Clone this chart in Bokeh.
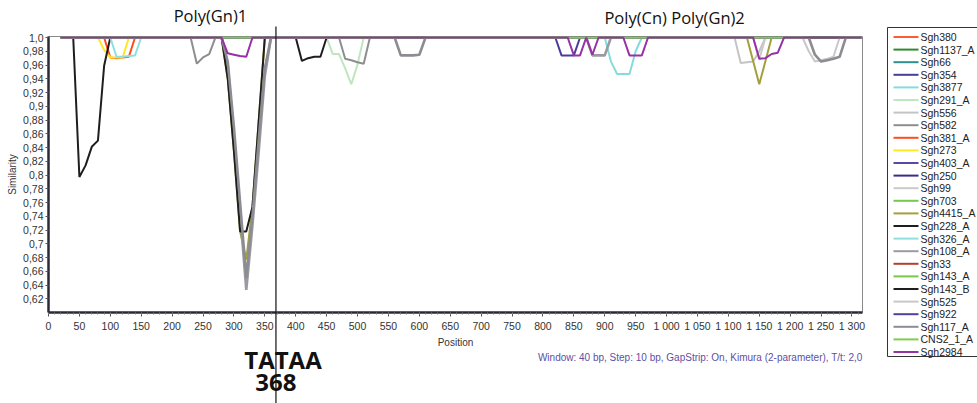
from bokeh.plotting import figure
from bokeh.models import FixedTicker, SingleIntervalTicker, Range1d, CustomJSTickFormatter
from bokeh.core.properties import value
from bokeh.embed import file_html
from bokeh.resources import INLINE

# ---------------- data ----------------
SERIES_NAMES = ["Sgh380", "Sgh1137_A", "Sgh66", "Sgh354", "Sgh3877", "Sgh291_A", "Sgh556",
                "Sgh582", "Sgh381_A", "Sgh273", "Sgh403_A", "Sgh250", "Sgh99", "Sgh703",
                "Sgh4415_A", "Sgh228_A", "Sgh326_A", "Sgh108_A", "Sgh33", "Sgh143_A",
                "Sgh143_B", "Sgh525", "Sgh922", "Sgh117_A", "CNS2_1_A", "Sgh2984"]
SERIES_COLORS = ["#ff5a36", "#2f8a2f", "#2f8f8f", "#4a3c98", "#86dcdc", "#bfe6bf", "#c4c4c4",
                 "#8e8e8e", "#ff4c1c", "#ffe820", "#5848a8", "#3a2c8a", "#cacaca", "#78c84c",
                 "#a3a03c", "#1e1e1e", "#8ee0e0", "#9a9aa2", "#b04030", "#76c84a",
                 "#1e1e1e", "#c8c8c8", "#5040a0", "#8c8c92", "#7ecc50", "#9632a6"]

sgh380_x = [20, 1315]
sgh380_y = [1.0, 1.0]
sgh1137a_x = [20, 1315]
sgh1137a_y = [1.0, 1.0]
sgh66_x = [20, 1315]
sgh66_y = [1.0, 1.0]
sgh354_x = [20, 820, 830, 840, 850, 860, 1315]
sgh354_y = [1.0, 1.0, 0.974, 0.974, 0.974, 1.0, 1.0]
sgh3877_x = [20, 900, 910, 920, 930, 940, 950, 960, 1315]
sgh3877_y = [1.0, 1.0, 0.965, 0.947, 0.947, 0.947, 0.98, 1.0, 1.0]
sgh291a_x = [20, 450, 460, 470, 480, 490, 500, 510, 1315]
sgh291a_y = [1.0, 1.0, 0.976, 0.976, 0.955, 0.932, 0.961, 1.0, 1.0]
sgh556_x = [20, 1110, 1120, 1130, 1140, 1150, 1160, 1315]
sgh556_y = [1.0, 1.0, 0.963, 0.964, 0.965, 0.98, 1.0, 1.0]
sgh582_x = [20, 230, 240, 250, 260, 270, 470, 480, 490, 500, 510, 520, 1315]
sgh582_y = [1.0, 1.0, 0.962, 0.971, 0.976, 1.0, 1.0, 0.969, 0.967, 0.964, 0.962, 1.0, 1.0]
sgh381a_x = [20, 90, 100, 110, 120, 130, 140, 1315]
sgh381a_y = [1.0, 1.0, 0.971, 0.970, 0.971, 0.972, 1.0, 1.0]
sgh273_x = [20, 80, 90, 100, 110, 120, 130, 1315]
sgh273_y = [1.0, 1.0, 0.982, 0.971, 0.971, 0.971, 1.0, 1.0]
sgh403a_x = [20, 1315]
sgh403a_y = [1.0, 1.0]
sgh250_x = [20, 1315]
sgh250_y = [1.0, 1.0]
sgh99_x = [20, 1140, 1150, 1160, 1315]
sgh99_y = [1.0, 1.0, 0.968, 1.0, 1.0]
sgh703_x = [20, 1315]
sgh703_y = [1.0, 1.0]
sgh4415a_x = [20, 280, 290, 300, 310, 320, 330, 340, 350, 1130, 1140, 1150, 1160, 1170, 1315]
sgh4415a_y = [1.0, 1.0, 0.94, 0.835, 0.718, 0.677, 0.754, 0.877, 1.0,
              1.0, 0.966, 0.932, 0.966, 1.0, 1.0]
sgh228a_x = [20, 40, 50, 60, 70, 80, 90, 100, 1315]
sgh228a_y = [1.0, 1.0, 0.797, 0.814, 0.841, 0.85, 0.959, 1.0, 1.0]
sgh326a_x = [20, 100, 110, 120, 130, 140, 150, 1315]
sgh326a_y = [1.0, 1.0, 0.972, 0.972, 0.973, 0.974, 1.0, 1.0]
sgh108a_x = [20, 280, 290, 300, 310, 320, 330, 340, 350, 360, 870, 880, 890, 900, 910, 1315]
sgh108a_y = [1.0, 1.0, 0.96, 0.857, 0.746, 0.633, 0.727, 0.833, 0.944, 1.0,
             1.0, 0.974, 0.974, 0.974, 1.0, 1.0]
sgh33_x = [20, 1315]
sgh33_y = [1.0, 1.0]
sgh143a_x = [20, 1315]
sgh143a_y = [1.0, 1.0]
sgh143b_x = [20, 280, 290, 300, 310, 320, 330, 340, 350, 400, 410, 420, 430, 440, 450, 1315]
sgh143b_y = [1.0, 1.0, 0.94, 0.835, 0.718, 0.718, 0.754, 0.877, 1.0,
             1.0, 0.966, 0.97, 0.972, 0.972, 1.0, 1.0]
sgh525_x = [20, 1220, 1230, 1240, 1250, 1260, 1270, 1280, 1315]
sgh525_y = [1.0, 1.0, 0.98, 0.965, 0.967, 0.969, 0.972, 1.0, 1.0]
sgh922_x = [20, 1315]
sgh922_y = [1.0, 1.0]
sgh117a_x = [20, 280, 290, 300, 310, 320, 330, 340, 350, 360,
             560, 570, 580, 590, 600, 610,
             1230, 1240, 1250, 1260, 1270, 1280, 1290, 1315]
sgh117a_y = [1.0, 1.0, 0.965, 0.87, 0.76, 0.65, 0.74, 0.85, 0.955, 1.0,
             1.0, 0.974, 0.974, 0.974, 0.975, 1.0,
             1.0, 0.975, 0.965, 0.967, 0.969, 0.972, 1.0, 1.0]
cns21a_x = [20, 1315]
cns21a_y = [1.0, 1.0]
sgh2984_x = [20, 280, 290, 300, 310, 320, 330, 840, 850, 860, 870, 880, 890,
             930, 940, 950, 960, 970, 1140, 1150, 1160, 1170, 1180, 1190, 1315]
sgh2984_y = [1.0, 1.0, 0.977, 0.975, 0.973, 0.972, 1.0, 1.0, 0.974, 0.974, 1.0, 0.975, 1.0,
             1.0, 0.974, 0.974, 0.974, 1.0, 1.0, 0.969, 0.970, 0.976, 0.978, 1.0, 1.0]

SERIES_X = [sgh380_x, sgh1137a_x, sgh66_x, sgh354_x, sgh3877_x, sgh291a_x, sgh556_x,
            sgh582_x, sgh381a_x, sgh273_x, sgh403a_x, sgh250_x, sgh99_x, sgh703_x,
            sgh4415a_x, sgh228a_x, sgh326a_x, sgh108a_x, sgh33_x, sgh143a_x,
            sgh143b_x, sgh525_x, sgh922_x, sgh117a_x, cns21a_x, sgh2984_x]
SERIES_Y = [sgh380_y, sgh1137a_y, sgh66_y, sgh354_y, sgh3877_y, sgh291a_y, sgh556_y,
            sgh582_y, sgh381a_y, sgh273_y, sgh403a_y, sgh250_y, sgh99_y, sgh703_y,
            sgh4415a_y, sgh228a_y, sgh326a_y, sgh108a_y, sgh33_y, sgh143a_y,
            sgh143b_y, sgh525_y, sgh922_y, sgh117a_y, cns21a_y, sgh2984_y]

X_TICKS = [0, 50, 100, 150, 200, 250, 300, 350, 400, 450, 500, 550, 600, 650, 700,
           750, 800, 850, 900, 950, 1000, 1050, 1100, 1150, 1200, 1250, 1300]
X_TICK_LABELS = ["0", "50", "100", "150", "200", "250", "300", "350", "400", "450",
                 "500", "550", "600", "650", "700", "750", "800", "850", "900", "950",
                 "1 000", "1 050", "1 100", "1 150", "1 200", "1 250", "1 300"]
Y_TICKS = [0.62, 0.64, 0.66, 0.68, 0.70, 0.72, 0.74, 0.76, 0.78, 0.80, 0.82, 0.84,
           0.86, 0.88, 0.90, 0.92, 0.94, 0.96, 0.98, 1.0]
Y_TICK_LABELS = ["0,62", "0,64", "0,66", "0,68", "0,7", "0,72", "0,74", "0,76", "0,78",
                 "0,8", "0,82", "0,84", "0,86", "0,88", "0,9", "0,92", "0,94", "0,96",
                 "0,98", "1,0"]

TATAA_POS = 368
REGION_LABELS = ["Poly(Gn)1", "Poly(Cn) Poly(Gn)2"]
REGION_X = [262, 1013]
FOOTER = "Window: 40 bp, Step: 10 bp, GapStrip: On, Kimura (2-parameter), T/t: 2,0"

# ---------------- layout constants (screen pixels) ----------------
W, H = 977, 403
FL, FR, FT, FB = 48, 862, 36, 312          # frame edges
X0, X1, Y0, Y1 = 0, 1317, 0.6, 1.0015      # data ranges


def dx(px):
    return X0 + (px - FL) * (X1 - X0) / (FR - FL)


def dy(py):
    return Y1 - (py - FT) * (Y1 - Y0) / (FB - FT)


# ---------------- figure ----------------
FONT = "Liberation Sans"
p = figure(width=W, height=H, x_range=Range1d(X0, X1), y_range=Range1d(Y0, Y1),
           output_backend="svg", toolbar_location=None,
           min_border_left=FL, min_border_right=W - FR, min_border_top=FT,
           min_border_bottom=H - FB)
p.xgrid.visible = False
p.ygrid.visible = False
p.outline_line_color = "#8a8a8a"
p.outline_line_width = 1
p.background_fill_color = "white"
p.border_fill_color = "white"

fmt_code = """
const i = tv.findIndex(t => Math.abs(t - tick) < 1e-6);
return i >= 0 ? tl[i] : "";
"""
p.xaxis.ticker = SingleIntervalTicker(interval=50, num_minor_ticks=5)
p.xaxis.formatter = CustomJSTickFormatter(args=dict(tv=X_TICKS, tl=X_TICK_LABELS), code=fmt_code)
p.yaxis.ticker = FixedTicker(ticks=Y_TICKS, minor_ticks=[])
p.yaxis.formatter = CustomJSTickFormatter(args=dict(tv=Y_TICKS, tl=Y_TICK_LABELS), code=fmt_code)

for ax in (p.xaxis[0], p.yaxis[0]):
    ax.axis_line_width = 2.5
    ax.axis_line_color = "#2a2a36"
    ax.major_tick_in = 0
    ax.minor_tick_in = 0
    ax.major_tick_line_color = "#555555"
    ax.minor_tick_line_color = "#777777"
    ax.major_label_text_font = FONT
    ax.major_label_text_font_size = "10.5px"
    ax.major_label_text_color = "#333333"
    ax.axis_label_text_font = FONT
    ax.axis_label_text_font_size = "10px"
    ax.axis_label_text_font_style = "normal"
    ax.axis_label_text_color = "#333333"

p.xaxis.major_tick_out = 4
p.xaxis.minor_tick_out = 2
p.xaxis.major_label_standoff = 3
p.xaxis.axis_label = "Position"
p.xaxis.axis_label_standoff = 2
p.yaxis.major_tick_out = 3
p.yaxis.major_label_standoff = 2
p.yaxis.axis_label = "Similarity"
p.yaxis.axis_label_standoff = 2

for name, color, xs, ys in zip(SERIES_NAMES, SERIES_COLORS, SERIES_X, SERIES_Y):
    lw = 2.6 if name in ("Sgh108_A", "Sgh117_A") else 2
    p.line(xs, ys, line_color=color, line_width=lw)

# annotations drawn at overlay level (outside the frame)
p.segment(x0=[TATAA_POS], y0=[dy(26)], x1=[TATAA_POS], y1=[dy(410)],
          line_color="#222222", line_width=1.3, level="overlay")
p.text(x=REGION_X, y=[dy(15), dy(17)], text=REGION_LABELS, text_align="center",
       text_baseline="middle", text_font=value("Open Sans"), text_font_size="16.5px",
       text_color="#111111", level="overlay")
p.text(x=[dx(282.5), TATAA_POS], y=[dy(359), dy(382)], text=["TATAA", str(TATAA_POS)],
       text_align="center", text_baseline="middle", text_font=value("Open Sans"),
       text_font_size="24px", text_font_style="bold", text_color="#111111", level="overlay")
p.text(x=[X1], y=[dy(357)], text=[FOOTER], text_align="right", text_baseline="middle",
       text_font=value(FONT), text_font_size="10px", text_color="#5d4fa5", level="overlay")

# legend box at the right, outside the frame (overlay level is not clipped)
LG_LEFT, LG_TOP, LG_BOTTOM, LG_STEP, LG_FIRST = 887, 27, 356, 12.6, 36.5
p.quad(left=[dx(LG_LEFT)], right=[dx(W + 10)], top=[dy(LG_TOP)], bottom=[dy(LG_BOTTOM)],
       fill_color="white", line_color="#333333", line_width=1, level="overlay")
rows_y = [dy(LG_FIRST + LG_STEP * i) for i in range(len(SERIES_NAMES))]
p.segment(x0=[dx(893)] * len(rows_y), x1=[dx(918)] * len(rows_y), y0=rows_y, y1=rows_y,
          line_color=SERIES_COLORS, line_width=2, level="overlay")
p.text(x=[dx(920)] * len(rows_y), y=rows_y, text=SERIES_NAMES, text_align="left",
       text_baseline="middle", text_font=value(FONT), text_font_size="10.5px",
       text_color="#222222", level="overlay")

open("out.html", "w").write(file_html(p, INLINE))
